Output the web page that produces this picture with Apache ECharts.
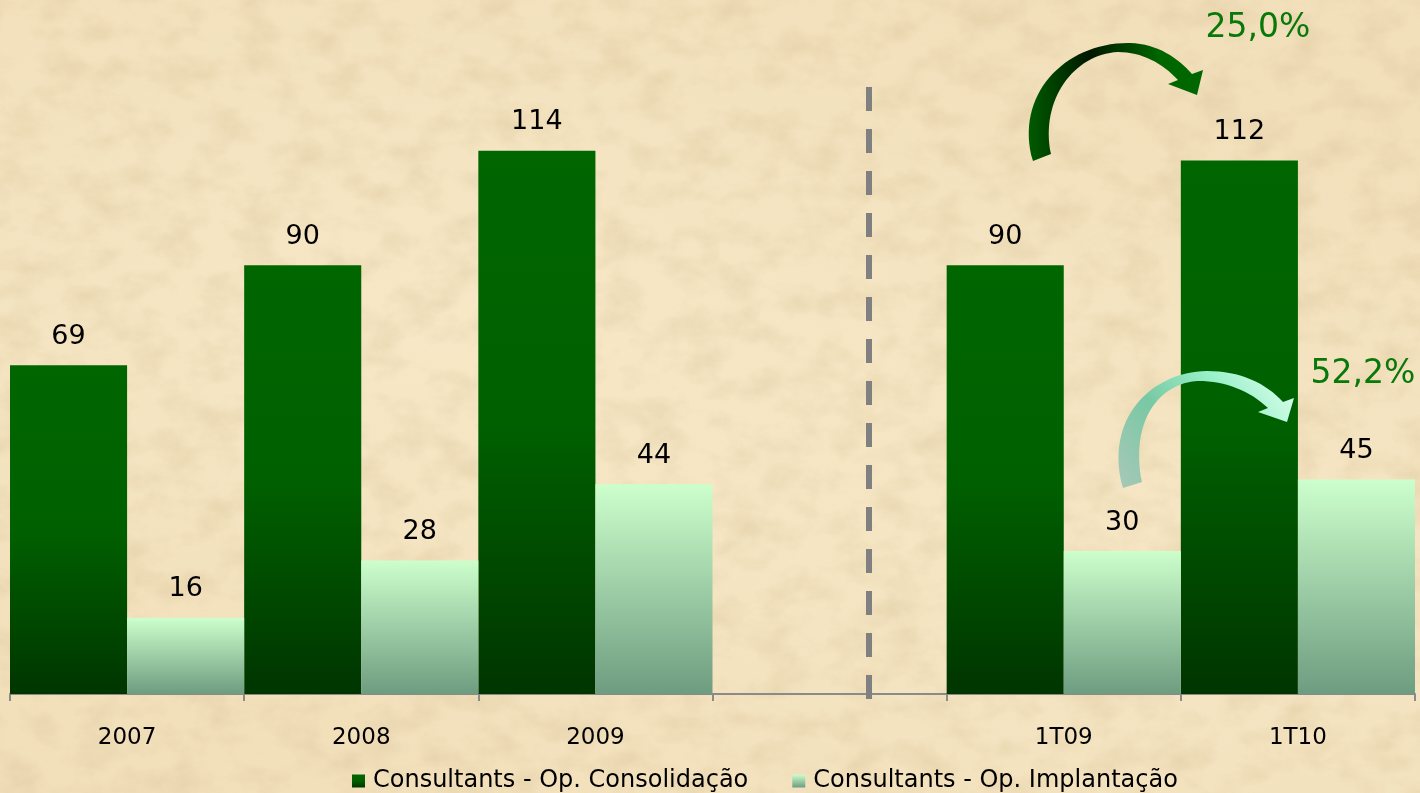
<!DOCTYPE html>
<html>
<head>
<meta charset="utf-8">
<script src="https://cdn.jsdelivr.net/npm/echarts@6/dist/echarts.min.js"></script>
<style>
  html, body { margin: 0; padding: 0; }
  body {
    width: 1420px; height: 793px; overflow: hidden;
    background-color: #F2E0BB;
    background-image:
      url("data:image/svg+xml;utf8,<svg xmlns='http://www.w3.org/2000/svg' width='1420' height='793'><filter id='t'><feTurbulence type='fractalNoise' baseFrequency='0.025 0.035' numOctaves='5' seed='11'/><feColorMatrix values='0 0 0 0 0.62  0 0 0 0 0.48  0 0 0 0 0.26  0 0 0 0.6 -0.24'/></filter><rect width='100%' height='100%' filter='url(%23t)'/></svg>"),
      radial-gradient(ellipse at 30% 40%, rgba(250,236,205,0.6), rgba(250,236,205,0) 60%),
      radial-gradient(ellipse at 80% 70%, rgba(250,236,205,0.5), rgba(250,236,205,0) 55%);
  }
  #main { width: 1420px; height: 793px; }
</style>
</head>
<body>
<div id="main"></div>
<script>
// categorias (a 4a fica vazia, separa anos de trimestres)
var categories = ['2007', '2008', '2009', '', '1T09', '1T10'];
var consolidacao = [69, 90, 114, null, 90, 112];
var implantacao = [16, 28, 44, null, 30, 45];
var seriesNames = ['Consultants - Op. Consolidação', 'Consultants - Op. Implantação'];
var growthLabels = ['25,0%', '52,2%'];

// setas curvas de crescimento
echarts.graphic.registerShape('setaEscura', echarts.graphic.extendPath(
  'M1033 161 C1014 95 1065 42 1130 43 C1158 44 1178 58 1192 74 L1203 70 L1197 95 L1168 84 L1178 80 C1162 63 1142 52 1118 52 C1074 54 1040 100 1051 154 Z', {}
));
echarts.graphic.registerShape('setaClara', echarts.graphic.extendPath(
  'M1123 488 C1104 420 1150 372 1207 371 C1240 371 1266 383 1283 402 L1294 398 L1287 422 L1258 412 L1268 408 C1250 391 1226 381 1198 381 C1160 383 1130 420 1142 482 Z', {}
));

var myChart = echarts.init(document.getElementById('main'));

var darkGreen = new echarts.graphic.LinearGradient(0, 0, 0, 1, [
  { offset: 0, color: '#006600' },
  { offset: 0.5, color: '#006000' },
  { offset: 1, color: '#003500' }
]);
var lightGreen = new echarts.graphic.LinearGradient(0, 0, 0, 1, [
  { offset: 0, color: '#CCFFCC' },
  { offset: 1, color: '#6E9C80' }
]);

var labelStyle = {
  show: true,
  position: 'top',
  distance: 15,
  color: '#000000',
  fontSize: 27,
  fontFamily: 'DejaVu Sans'
};

myChart.setOption({
  animation: false,
  backgroundColor: 'transparent',
  grid: { left: 10, right: 5, top: 27, bottom: 99 },
  legend: {
    left: 347,
    top: 764,
    itemWidth: 13,
    itemHeight: 13,
    itemGap: 44,
    icon: 'rect',
    textStyle: { color: '#000000', fontSize: 24, fontFamily: 'DejaVu Sans', padding: [0, 0, 0, 3] },
    data: seriesNames
  },
  xAxis: {
    type: 'category',
    data: categories,
    axisLine: { lineStyle: { color: '#8A8A8A', width: 2 } },
    axisTick: { show: true, length: 7, lineStyle: { color: '#8A8A8A', width: 2 } },
    axisLabel: { color: '#000000', fontSize: 23, fontFamily: 'DejaVu Sans', margin: 33 }
  },
  yAxis: {
    type: 'value',
    min: 0,
    max: 140,
    show: false,
    splitLine: { show: false }
  },
  series: [
    {
      name: seriesNames[0],
      type: 'bar',
      data: consolidacao,
      barGap: '0%',
      barCategoryGap: '0%',
      itemStyle: { color: darkGreen },
      label: labelStyle
    },
    {
      name: seriesNames[1],
      type: 'bar',
      data: implantacao,
      itemStyle: { color: lightGreen },
      label: labelStyle
    }
  ],
  graphic: [
    {
      type: 'line',
      shape: { x1: 869, y1: 87, x2: 869, y2: 700 },
      style: { stroke: '#808080', lineWidth: 6, lineDash: [24, 18] },
      z: 10
    },
    {
      type: 'setaEscura',
      style: {
        fill: new echarts.graphic.LinearGradient(0, 0, 1, 0, [
          { offset: 0, color: '#005A00' },
          { offset: 0.35, color: '#001800' },
          { offset: 0.75, color: '#006600' },
          { offset: 1, color: '#006600' }
        ])
      },
      z: 20
    },
    {
      type: 'setaClara',
      style: {
        fill: new echarts.graphic.LinearGradient(0, 1, 1, 0, [
          { offset: 0, color: '#A8C8B8' },
          { offset: 0.35, color: '#78C8A4' },
          { offset: 0.65, color: '#98F0C8' },
          { offset: 1, color: '#E0FFF0' }
        ])
      },
      z: 20
    },
    {
      type: 'text',
      x: 1258, y: 28,
      style: {
        text: growthLabels[0],
        fill: '#087808',
        fontSize: 33,
        fontFamily: 'DejaVu Sans',
        align: 'center',
        verticalAlign: 'middle'
      },
      z: 20
    },
    {
      type: 'text',
      x: 1363, y: 374,
      style: {
        text: growthLabels[1],
        fill: '#087808',
        fontSize: 33,
        fontFamily: 'DejaVu Sans',
        align: 'center',
        verticalAlign: 'middle'
      },
      z: 20
    }
  ]
});
</script>
</body>
</html>
